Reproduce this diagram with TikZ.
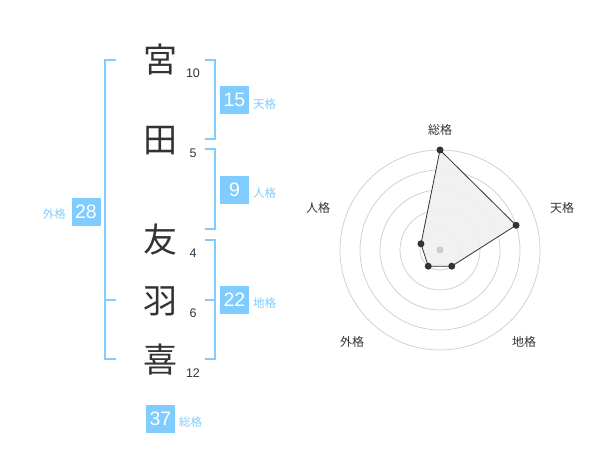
\documentclass[tikz,border=0pt]{standalone}
\usepackage{fontspec}
\usetikzlibrary{calc}
\setmainfont{Liberation Sans}
\newfontfamily\cjk{Noto Sans CJK JP}
\definecolor{bl}{HTML}{80CCFF}
\definecolor{txt}{HTML}{333333}
\definecolor{ring}{HTML}{CCCCCC}
\begin{document}
\begin{tikzpicture}[x=1pt,y=-1pt,
  kanji/.style={font=\cjk\fontsize{34}{34}\selectfont,text=txt,inner sep=0pt},
  strokes/.style={font=\fontsize{12.5}{12.5}\selectfont,text=txt,inner sep=0pt},
  valbox/.style={fill=bl,text=white,minimum width=29pt,minimum height=28pt,inner sep=0pt,font=\fontsize{19.5}{19.5}\selectfont},
  kaku/.style={font=\cjk\fontsize{11.5}{11.5}\selectfont,text=bl,inner sep=0pt},
  brk/.style={draw=bl,line width=2pt},
  rlab/.style={font=\cjk\fontsize{12}{12}\selectfont,text=txt,inner sep=0pt},
  dot/.style={circle,fill=txt,minimum size=7pt,inner sep=0pt}]
\useasboundingbox (0,0) rectangle (600,470);
% characters
\node[kanji] (c1) at (160,60) {宮};
\node[kanji] (c2) at (160,141) {田};
\node[kanji] (c3) at (160,240) {友};
\node[kanji] (c4) at (160,301) {羽};
\node[kanji] (c5) at (160,360) {喜};
\node[strokes] (n1) at (193,73) {10};
\node[strokes] (n2) at (193,153) {5};
\node[strokes] (n3) at (193,253) {4};
\node[strokes] (n4) at (193,313) {6};
\node[strokes] (n5) at (193,373) {12};
% brackets
\draw[brk] (205,60) -- (214.5,60) -- (214.5,139.5) -- (205,139.5);
\draw[brk] (205,149.5) -- (214.5,149.5) -- (214.5,229.5) -- (205,229.5);
\draw[brk] (205,240) -- (214.5,240) -- (214.5,359.5) -- (205,359.5);
\draw[brk] (205,300) -- (214.5,300);
\draw[brk] (116,60) -- (105,60) -- (105,359.5) -- (116,359.5);
\draw[brk] (105,300) -- (116,300);
% value boxes
\node[valbox] (b1) at (234.5,100) {15};
\node[kaku,anchor=west] (k1) at (253,104) {天格};
\node[valbox] (b2) at (234.5,190) {9};
\node[kaku,anchor=west] (k2) at (253,193) {人格};
\node[valbox] (b3) at (234.5,300) {22};
\node[kaku,anchor=west] (k3) at (253,303) {地格};
\node[valbox] (b4) at (86,212) {28};
\node[kaku,anchor=east] (k4) at (66,214) {外格};
\node[valbox] (b5) at (160.5,419) {37};
\node[kaku,anchor=west] (k5) at (179,422) {総格};
% radar
\coordinate (o) at (440,250);
\foreach \r in {20,40,60,80,100} \draw[ring,line width=0.7pt] (o) circle[radius=\r];
\coordinate (p1) at ($(o)+(-90:100)$);
\coordinate (p2) at ($(o)+(-18:80)$);
\coordinate (p3) at ($(o)+(54:20)$);
\coordinate (p4) at ($(o)+(126:20)$);
\coordinate (p5) at ($(o)+(-162:20)$);
\fill[black!6,opacity=0.9] (p1) -- (p2) -- (p3) -- (p4) -- (p5) -- cycle;
\draw[txt,line width=0.8pt] (p1) -- (p2) -- (p3) -- (p4) -- (p5) -- cycle;
\node[circle,fill=ring,minimum size=7pt,inner sep=0pt] (ctr) at (o) {};
\foreach \i in {1,...,5} \node[dot] (d\i) at (p\i) {};
\node[rlab] (l1) at (440,130) {総格};
\node[rlab] (l2) at (562,208) {天格};
\node[rlab] (l3) at (524,342) {地格};
\node[rlab] (l4) at (352,342) {外格};
\node[rlab] (l5) at (318,208) {人格};
\end{tikzpicture}
\end{document}
